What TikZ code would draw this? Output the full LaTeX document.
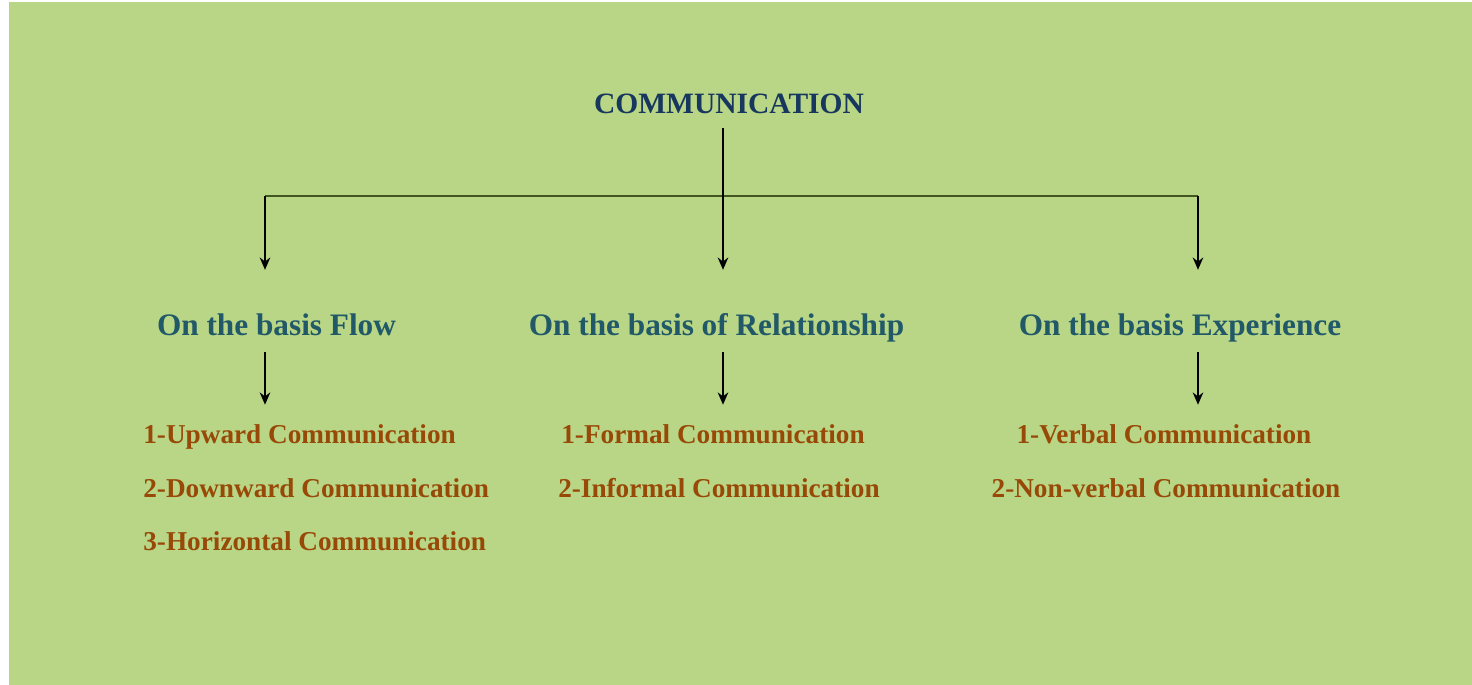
\documentclass[tikz,border=0pt]{standalone}
\usepackage{fontspec}
\setmainfont{Liberation Serif}
\usetikzlibrary{arrows.meta, positioning}

\definecolor{bggreen}{RGB}{184,214,133}
\definecolor{titleblue}{RGB}{23,55,94}
\definecolor{basisteal}{RGB}{33,89,104}
\definecolor{itembrown}{RGB}{152,72,7}
\definecolor{barolive}{RGB}{66,86,32}

\begin{document}
\begin{tikzpicture}[x=0.02cm, y=-0.02cm,
    head/.style={font=\bfseries\fontsize{16.8}{20}\selectfont, text=titleblue,
      inner sep=0pt, text height=12.6pt, text depth=3.4pt},
    basis/.style={font=\bfseries\fontsize{17.8}{21}\selectfont, text=basisteal,
      inner sep=0pt, text height=13.3pt, text depth=3.6pt},
    item/.style={font=\bfseries\fontsize{15.5}{19}\selectfont, text=itembrown,
      inner sep=0pt, text height=11.6pt, text depth=3.1pt},
    arr/.style={-{Stealth[length=7pt, width=6pt]}, line width=1.1pt, black},
    bar/.style={line width=1.2pt, barolive}]
  % Background
  \fill[white] (0,0) rectangle (1472,685);
  \fill[bggreen] (9,2) rectangle (1472,685);
  % Top level
  \node[head] (comm) at (729,105) {COMMUNICATION};
  \coordinate (hub) at (723,196);
  \coordinate (ltap) at (265,196);
  \coordinate (rtap) at (1198,196);
  % Bases
  \node[basis] (flow) at (276.5,327) {On the basis Flow};
  \node[basis] (rel) at (716.5,327) {On the basis of Relationship};
  \node[basis] (exp) at (1180,327) {On the basis Experience};
  % Kinds
  \node[item, anchor=west] (up) at (143,436) {1-Upward Communication};
  \node[item, anchor=west] (down) at (143,490) {2-Downward Communication};
  \node[item, anchor=west] (horiz) at (143,543) {3-Horizontal Communication};
  \node[item] (formal) at (713,436) {1-Formal Communication};
  \node[item] (informal) at (719,490) {2-Informal Communication};
  \node[item] (verbal) at (1164,436) {1-Verbal Communication};
  \node[item] (nonverbal) at (1166,490) {2-Non-verbal Communication};
  % Connectors
  \draw[bar] (ltap) -- (rtap);
  \draw[arr, shorten <=0.18cm, shorten >=0.84cm] (comm.south -| hub) -- (rel.north -| hub);
  \draw[arr, shorten >=0.84cm] (ltap) -- (ltap |- flow.north);
  \draw[arr, shorten >=0.84cm] (rtap) -- (rtap |- exp.north);
  \draw[arr, shorten <=0.2cm, shorten >=0.36cm] (flow.south -| ltap) -- (up.north -| ltap);
  \draw[arr, shorten <=0.2cm, shorten >=0.36cm] (rel.south -| hub) -- (formal.north -| hub);
  \draw[arr, shorten <=0.2cm, shorten >=0.36cm] (exp.south -| rtap) -- (verbal.north -| rtap);
\end{tikzpicture}
\end{document}
